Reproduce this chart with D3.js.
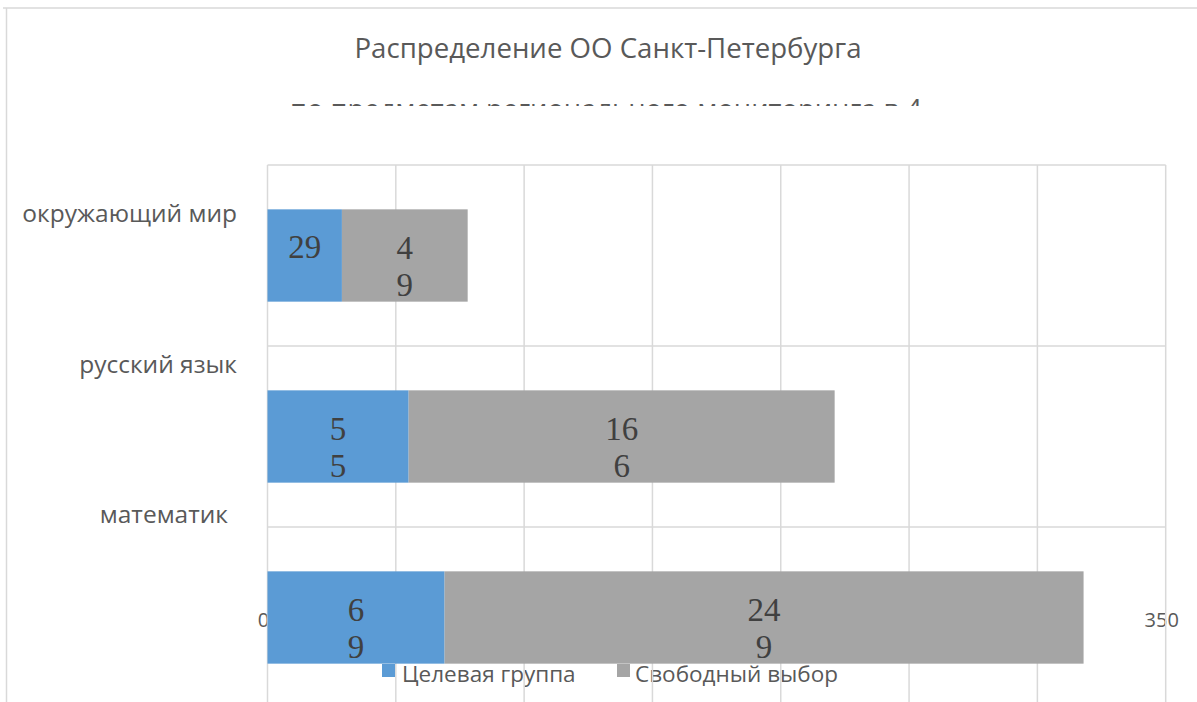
<!DOCTYPE html>
<html>
<head>
<meta charset="utf-8">
<script src="https://cdn.jsdelivr.net/npm/d3@7"></script>
<style>
  body { margin: 0; background: #fff; }
  text { font-family: "Open Sans", sans-serif; }
</style>
</head>
<body>
<svg id="chart"></svg>
<script>
const categories = ["окружающий мир", "русский язык", "математик"]
const seriesNames = ["Целевая группа", "Свободный выбор"]
const targetGroup = [29, 55, 69]
const freeChoice = [49, 166, 249]
// how the data labels got broken in the original (last digit moved to a second line)
const wrapTarget = [false, true, true]
const wrapFree = [true, true, true]
const xTicks = [0, 50, 100, 150, 200, 250, 300, 350]
const titleLines = ["Распределение ОО Санкт-Петербурга", "по предметам регионального мониторинга в 4"]

const colors = ["#5b9bd5", "#a5a5a5"]
const width = 1197
const height = 702

const svg = d3.select("#chart").attr("width", width).attr("height", height)

const x = d3.scaleLinear().domain([0, 350]).range([267.5, 1165.7])
const yGrid = d3.scaleBand().domain(categories).range([165, 708])
const y = d3.scaleBand().domain(categories).range([165, 708]).paddingInner(0.49).paddingOuter(0.245)
const yLabel = d3.scalePoint().domain(categories).range([222, 523])

// stacked data
const rows = categories.map((c, i) => ({
    category: c,
    parts: [
        {s: 0, x0: 0, x1: targetGroup[i], value: targetGroup[i], wrap: wrapTarget[i]},
        {s: 1, x0: targetGroup[i], x1: targetGroup[i] + freeChoice[i], value: freeChoice[i], wrap: wrapFree[i]}
    ]
}))
const maxTotal = d3.max(rows, r => r.parts[1].x1)

// outer frame (only top and left edges are visible)
svg.append("line").attr("x1", 3).attr("x2", width).attr("y1", 8).attr("y2", 8)
    .attr("stroke", "#d9d9d9").attr("stroke-width", 1.5)
svg.append("line").attr("x1", 6.5).attr("x2", 6.5).attr("y1", 8).attr("y2", height)
    .attr("stroke", "#d9d9d9").attr("stroke-width", 1.5)

// title
svg.append("text")
    .attr("x", 608).attr("y", 58)
    .attr("text-anchor", "middle")
    .attr("textLength", 507).attr("lengthAdjust", "spacingAndGlyphs")
    .style("font-size", "27px").style("fill", "#595959")
    .text(titleLines[0])

// second line is cut off in the original
svg.append("clipPath").attr("id", "cut")
    .append("rect").attr("x", 0).attr("y", 0).attr("width", width).attr("height", 106)

svg.append("text")
    .attr("clip-path", "url(#cut)")
    .attr("x", 606).attr("y", 119)
    .attr("text-anchor", "middle")
    .attr("textLength", 632).attr("lengthAdjust", "spacingAndGlyphs")
    .style("font-size", "27px").style("fill", "#595959")
    .text(titleLines[1])

// legend (sits under the grid and bars)
const legend = svg.append("g")
legend.selectAll("rect")
    .data(seriesNames).enter()
    .append("rect")
    .attr("x", (d, i) => [382, 617][i])
    .attr("y", 664)
    .attr("width", 13).attr("height", 13)
    .style("fill", (d, i) => colors[i])
legend.selectAll("text")
    .data(seriesNames).enter()
    .append("text")
    .attr("x", (d, i) => [402, 635][i])
    .attr("y", 682)
    .style("font-size", "22.5px").style("fill", "#595959")
    .text(d => d)

// tick labels, the ones under the longest bar are hidden by it
svg.selectAll(".tick-label")
    .data(xTicks.filter(d => d === 0 || d > maxTotal)).enter()
    .append("text")
    .attr("class", "tick-label")
    .attr("x", d => x(d) - 4)
    .attr("y", 627)
    .attr("text-anchor", "middle")
    .style("font-size", "20px").style("fill", "#595959")
    .text(d => d)

// grid
svg.selectAll(".vgrid")
    .data(xTicks).enter()
    .append("line")
    .attr("class", "vgrid")
    .attr("x1", d => x(d)).attr("x2", d => x(d))
    .attr("y1", yGrid.range()[0]).attr("y2", height)
    .attr("stroke", "#d9d9d9").attr("stroke-width", 1.5)

svg.selectAll(".hgrid")
    .data(categories).enter()
    .append("line")
    .attr("class", "hgrid")
    .attr("x1", x(0)).attr("x2", x(350))
    .attr("y1", d => yGrid(d)).attr("y2", d => yGrid(d))
    .attr("stroke", "#d9d9d9").attr("stroke-width", 1.5)

// category labels
svg.selectAll(".cat")
    .data(categories).enter()
    .append("text")
    .attr("class", "cat")
    .attr("x", (d, i) => i === 2 ? 228 : 237)
    .attr("y", d => yLabel(d))
    .attr("text-anchor", "end")
    .style("font-size", "24.5px").style("fill", "#595959")
    .text(d => d)

// bars
const group = svg.selectAll(".row")
    .data(rows).enter()
    .append("g")
    .attr("class", "row")

group.selectAll("rect")
    .data(d => d.parts.map(p => ({...p, category: d.category})))
    .join("rect")
    .attr("x", d => x(d.x0))
    .attr("y", d => y(d.category))
    .attr("width", d => x(d.x1) - x(d.x0))
    .attr("height", y.bandwidth())
    .style("fill", d => colors[d.s])

// data labels
const labels = group.selectAll(".val")
    .data(d => d.parts.map(p => ({...p, category: d.category})))
    .join("text")
    .attr("class", "val")
    .attr("text-anchor", "middle")
    .style("font-family", "'Liberation Serif', 'Times New Roman', serif")
    .style("font-size", "33px").style("fill", "#404040")

labels.each(function(d) {
    const t = String(d.value)
    const lines = d.wrap ? [t.slice(0, -1), t.slice(-1)] : [t]
    const cx = (x(d.x0) + x(d.x1)) / 2
    const cy = y(d.category) + y.bandwidth() / 2
    d3.select(this).selectAll("tspan")
        .data(lines).enter()
        .append("tspan")
        .attr("x", cx)
        .attr("y", (l, i) => cy + (lines.length === 1 ? 2 : 3 + i * 37))
        .text(l => l)
})
</script>
</body>
</html>
